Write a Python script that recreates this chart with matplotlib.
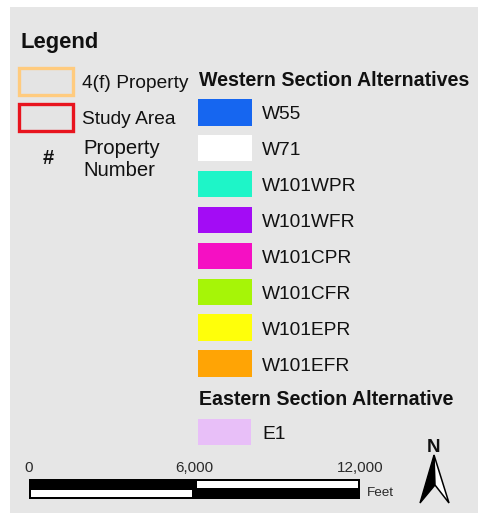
import matplotlib
matplotlib.use("Agg")
import matplotlib.pyplot as plt
from matplotlib.patches import Rectangle, Polygon

plt.rcParams['font.family'] = ['Liberation Sans', 'DejaVu Sans']

# ---- data ----
legend_title = "Legend"
context_labels = ["4(f) Property", "Study Area"]
context_edges = ["#FFCB7E", "#E8141E"]
number_symbol = "#"
number_label = ["Property", "Number"]

western_title = "Western Section Alternatives"
western_names = ["W55", "W71", "W101WPR", "W101WFR", "W101CPR",
                 "W101CFR", "W101EPR", "W101EFR"]
western_colors = ["#1666F0", "#FFFFFF", "#1EF5C8", "#A30CF5", "#F510C3",
                  "#A6F507", "#FFFF0A", "#FFA405"]

eastern_title = "Eastern Section Alternative"
eastern_names = ["E1"]
eastern_colors = ["#E8BFF8"]

scale_ticks = [0, 6000, 12000]
scale_tick_labels = ["0", "6,000", "12,000"]
scale_unit = "Feet"
north_label = "N"

# ---- figure (pixel coordinate canvas) ----
W, H = 487, 516
fig = plt.figure(figsize=(W / 100, H / 100), dpi=100)
fig.patch.set_facecolor("white")
ax = fig.add_axes([0, 0, 1, 1])
ax.set_xlim(0, W)
ax.set_ylim(H, 0)
ax.axis("off")

# panel
ax.add_patch(Rectangle((10, 7), 468, 506, facecolor="#E6E6E6", edgecolor="none"))

REG = 13.8
BOLD = 14.1

ax.text(20, 48, legend_title, fontsize=15.8, fontweight="bold", va="baseline", color="#111111")

# context boxes
box_tops = [68, 104]
for i, (lab, ec) in enumerate(zip(context_labels, context_edges)):
    top = box_tops[0] + i * (box_tops[1] - box_tops[0])
    ax.add_patch(Rectangle((18.5, top), 54, 27, facecolor="#E4E4E4",
                           edgecolor=ec, linewidth=2.4))
    ax.text(82, top + 20, lab, fontsize=REG, va="baseline", color="#111111")

ax.text(48.5, 163.5, number_symbol, fontsize=14.5, fontweight="bold", ha="center",
        va="baseline", color="#111111")
for j, s in enumerate(number_label):
    ax.text(83, 154 + j * 21.5, s, fontsize=14.6, va="baseline", color="#111111")

# western section
ax.text(199, 86, western_title, fontsize=BOLD, fontweight="bold", va="baseline",
        color="#111111")
sw_x, sw_w, sw_h = 198, 54, 26.5
first_top, pitch = 99, 35.9
for i, (name, c) in enumerate(zip(western_names, western_colors)):
    top = first_top + i * pitch
    ax.add_patch(Rectangle((sw_x, top), sw_w, sw_h, facecolor=c, edgecolor="none"))
    ax.text(262, top + sw_h / 2 + 7, name, fontsize=REG, va="baseline", color="#111111")

# eastern section
ax.text(199, 405, eastern_title, fontsize=BOLD, fontweight="bold", va="baseline",
        color="#111111")
for i, (name, c) in enumerate(zip(eastern_names, eastern_colors)):
    top = 419 + i * pitch
    ax.add_patch(Rectangle((sw_x, top), sw_w - 1, 25.5, facecolor=c, edgecolor="none"))
    ax.text(262, top + 25.5 / 2 + 7, name, fontsize=REG, va="baseline", color="#111111")

# ---- scale bar ----
sb_left, sb_right, sb_top, sb_bot = 29, 360, 479, 499
sax = fig.add_axes([sb_left / W, 1 - sb_bot / H, (sb_right - sb_left) / W,
                    (sb_bot - sb_top) / H])
sax.set_xlim(scale_ticks[0], scale_ticks[-1])
sax.set_ylim(0, 2)
sax.axis("off")
units_per_px = (scale_ticks[-1] - scale_ticks[0]) / (sb_right - sb_left)
inset = 2.2 * units_per_px
sax.barh(1, scale_ticks[-1] - scale_ticks[0], height=2, left=scale_ticks[0],
         color="black", clip_on=False)
for k in range(len(scale_ticks) - 1):
    a, b = scale_ticks[k], scale_ticks[k + 1]
    if k % 2 == 0:
        y0, y1 = 0.23, 0.9
    else:
        y0, y1 = 1.13, 1.76
    sax.barh((y0 + y1) / 2, (b - a) - 2 * inset, height=y1 - y0, left=a + inset,
             color="white", clip_on=False)
for t, lab in zip(scale_ticks, scale_tick_labels):
    sax.text(t, 2.4, lab, fontsize=11, ha="center", va="bottom", color="#2A2A2A",
             clip_on=False)
sax.text(scale_ticks[-1] + 7 * units_per_px, 0.6, scale_unit, fontsize=9.7,
         ha="left", va="center", color="#2A2A2A", clip_on=False)

# ---- north arrow ----
ax.text(433, 452, north_label, fontsize=13.5, fontweight="bold", ha="center",
        va="baseline", color="#111111")
tip, notch = (434, 455), (435, 485)
ax.add_patch(Polygon([tip, (420, 503), notch], closed=True, facecolor="black",
                     edgecolor="black", linewidth=1.0))
ax.add_patch(Polygon([tip, (449, 503), notch], closed=True, facecolor="white",
                     edgecolor="black", linewidth=1.1, joinstyle="miter"))

fig.savefig("out.png", dpi=100)
